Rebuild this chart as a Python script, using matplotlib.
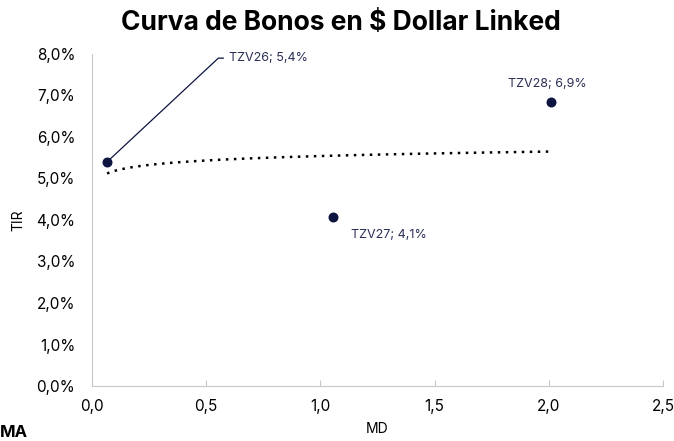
import numpy as np
import matplotlib.pyplot as plt
from matplotlib.ticker import FuncFormatter

plt.rcParams['font.family'] = ['Inter', 'DejaVu Sans']

# datos de los bonos dollar linked
bonos = ['TZV26', 'TZV27', 'TZV28']
md = [0.066, 1.055, 2.01]
tir = [5.40, 4.07, 6.85]
etiquetas = ['TZV26; 5,4%', 'TZV27; 4,1%', 'TZV28; 6,9%']

navy = '#0d1440'
txt = '#2b2f55'
gris = '#c8c8c8'

fig = plt.figure(figsize=(6.74, 4.41), dpi=100)
ax = fig.add_axes([0.1365, 0.1247, 0.8472, 0.7529])

# curva logaritmica (tendencia)
a, b = np.polyfit(np.log(md), tir, 1)
xs = np.linspace(min(md), max(md), 200)
ax.plot(xs, a * np.log(xs) + b, linestyle=(0, (1, 2.2)), color='black', lw=1.8)

ax.scatter(md, tir, s=38, color=navy, zorder=3)

# etiquetas
ax.annotate(etiquetas[0], xy=(md[0], tir[0]), xytext=(0.6, 7.9),
            fontsize=9, color=txt, va='center', ha='left',
            arrowprops=dict(arrowstyle='-', color=navy, lw=0.9,
                            connectionstyle='angle,angleA=0,angleB=43,rad=0',
                            shrinkA=2, shrinkB=2))
ax.annotate(etiquetas[1], xy=(md[1], tir[1]), xytext=(13, -13),
            textcoords='offset points', fontsize=9, color=txt,
            ha='left', va='center')
ax.annotate(etiquetas[2], xy=(md[2], tir[2]), xytext=(-31, 13),
            textcoords='offset points', fontsize=9, color=txt,
            ha='left', va='center')

ax.set_xlim(0, 2.5)
ax.set_ylim(0, 8)
ax.set_xticks(np.arange(0, 2.51, 0.5))
ax.set_yticks(np.arange(0, 8.1, 1))
ax.xaxis.set_major_formatter(FuncFormatter(lambda v, p: f'{v:.1f}'.replace('.', ',')))
ax.yaxis.set_major_formatter(FuncFormatter(lambda v, p: f'{v:.1f}%'.replace('.', ',')))

for s in ['top', 'right']:
    ax.spines[s].set_visible(False)
ax.spines['left'].set_color(gris)
ax.spines['bottom'].set_color(gris)
ax.tick_params(axis='x', direction='in', length=4, color=gris, labelsize=11, pad=9)
ax.tick_params(axis='y', length=0, labelsize=11, pad=12)

ax.set_xlabel('MD', fontsize=10, labelpad=6)
ax.set_ylabel('TIR', fontsize=10, labelpad=8)

fig.text(0.506, 0.948, 'Curva de Bonos en $ Dollar Linked', fontsize=19,
         fontweight='bold', ha='center', va='center')
fig.text(0.0, 0.02, 'MA', fontsize=12, fontweight='bold', ha='left', va='center')

fig.savefig('out.png', dpi=100)
